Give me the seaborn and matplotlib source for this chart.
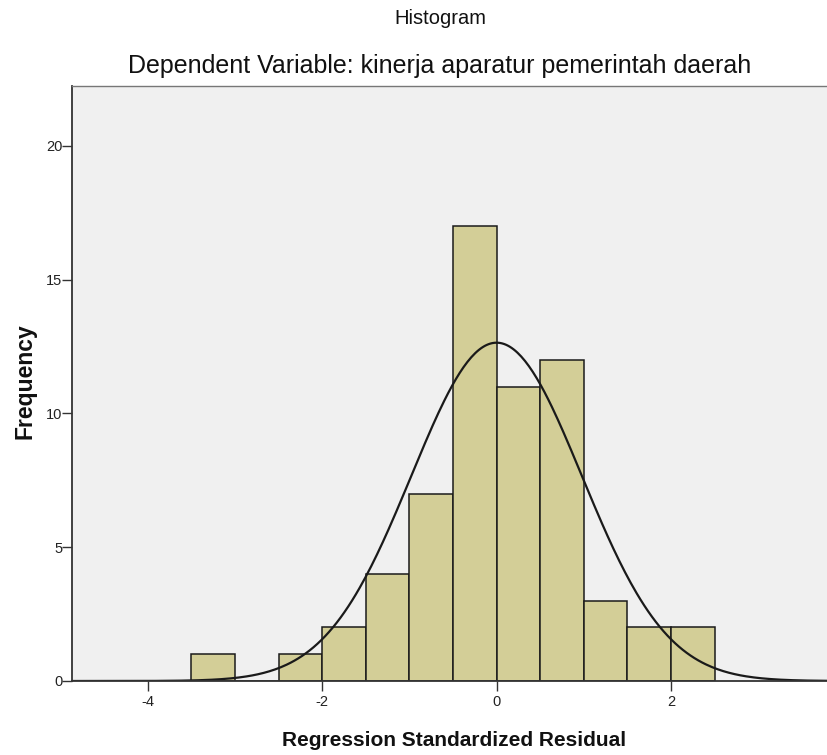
import numpy as np
import pandas as pd
import matplotlib
matplotlib.use("Agg")
import matplotlib.pyplot as plt
import seaborn as sns

# Data
bin_left = [-3.5, -3.0, -2.5, -2.0, -1.5, -1.0, -0.5, 0.0, 0.5, 1.0, 1.5, 2.0]
counts = [1, 0, 1, 2, 4, 7, 17, 11, 12, 3, 2, 2]
bin_width = 0.5
curve_mean = 0.0
curve_std = 0.978
n_total = sum(counts)

title = "Histogram"
subtitle = "Dependent Variable: kinerja aparatur pemerintah daerah"
xlabel = "Regression Standardized Residual"
ylabel = "Frequency"
xticks = [-4, -2, 0, 2]
yticks = [0, 5, 10, 15, 20]

sns.set_style("white")
plt.rcParams['font.family'] = ['Liberation Sans', 'DejaVu Sans']

fig = plt.figure(figsize=(8.27, 7.55), dpi=100)
ax = fig.add_axes([72/827, 74/755, 1 - 72/827, (681-86)/755])
ax.set_facecolor("#F0F0F0")

df = pd.DataFrame({"x": [b + bin_width/2 for b in bin_left], "w": counts})
edges = bin_left + [bin_left[-1] + bin_width]
sns.histplot(data=df, x="x", weights="w", bins=edges, ax=ax,
             color="#D3CE97", alpha=1.0, edgecolor="#1a1a1a", linewidth=1.1)

xs = np.linspace(-4.9, 3.9, 400)
ys = n_total * bin_width * np.exp(-0.5 * ((xs - curve_mean) / curve_std) ** 2) / (curve_std * np.sqrt(2 * np.pi))
sns.lineplot(x=xs, y=ys, ax=ax, color="#1a1a1a", linewidth=1.6)

ax.set_xlim(-4.87, 3.79)
ax.set_ylim(0, 22.24)
ax.set_xticks(xticks)
ax.set_xticklabels([str(t) for t in xticks])
ax.set_yticks(yticks)
ax.set_yticklabels([str(t) for t in yticks])
ax.tick_params(axis="both", direction="out", length=7, width=1, color="#333333",
               labelsize=10.5, labelcolor="#222222", bottom=True, left=True)
ax.tick_params(axis="x", pad=3)
ax.tick_params(axis="y", pad=0)
for side in ["left", "bottom"]:
    ax.spines[side].set_color("#333333")
    ax.spines[side].set_linewidth(1.3)
ax.spines["top"].set_color("#777777")
ax.spines["top"].set_linewidth(1.0)
ax.spines["right"].set_visible(False)

ax.set_xlabel("")
ax.set_ylabel("")
fig.text(440/827, 1 - 18/755, title, ha="center", va="center", fontsize=14.5, color="#111111")
fig.text(440/827, 1 - 66/755, subtitle, ha="center", va="center", fontsize=18, color="#111111")
fig.text(454/827, 1 - 741/755, xlabel, ha="center", va="center", fontsize=15, fontweight="bold", color="#111111")
fig.text(25/827, 1 - 381/755, ylabel, ha="center", va="center", rotation=90, fontsize=16.5, fontweight="bold", color="#111111")

fig.savefig("out.png", dpi=100, facecolor="white")
